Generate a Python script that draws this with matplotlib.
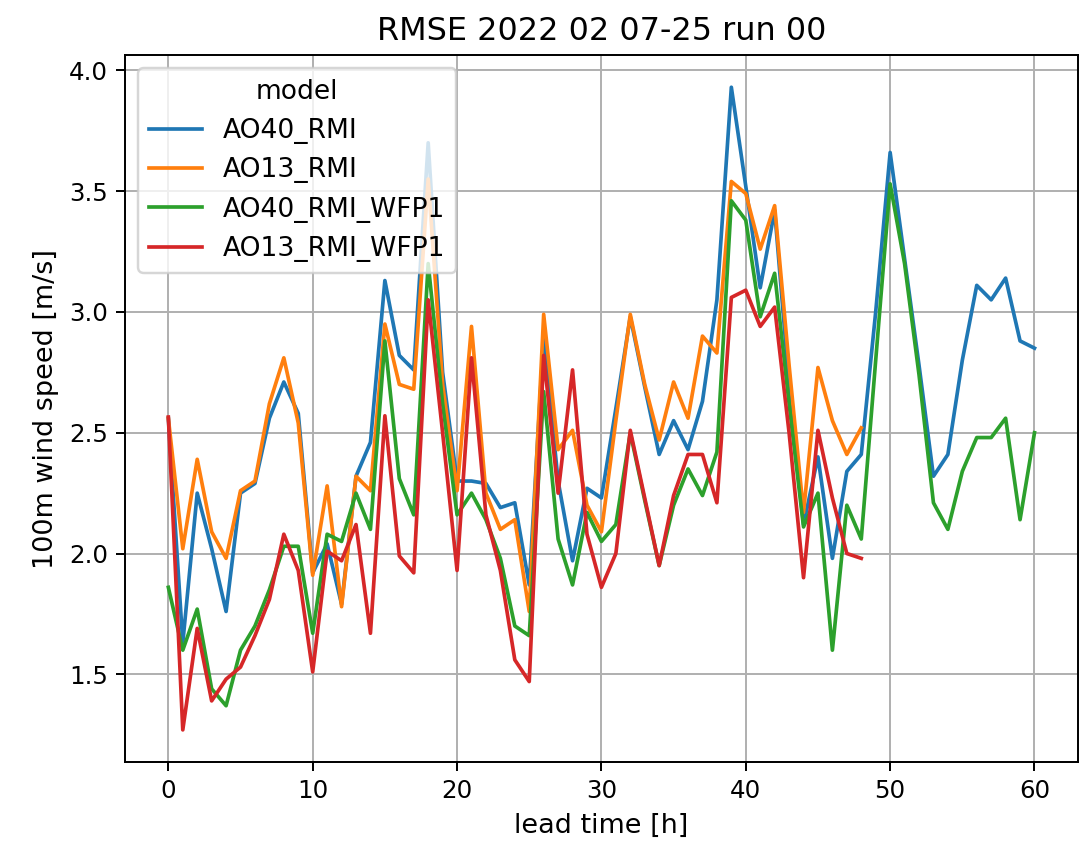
#!/usr/bin/env python3
import numpy
import matplotlib
matplotlib.use("Agg")
import matplotlib.pyplot as plt

title = "RMSE 2022 02 07-25 run 00"
legend_title = "model"
models = ["AO40_RMI", "AO13_RMI", "AO40_RMI_WFP1", "AO13_RMI_WFP1"]

# lead time [h]: AO40 runs go to 60h, AO13 runs stop at 48h
lead_ao40 = list(range(0, 61))
lead_ao13 = list(range(0, 49))

ao40_rmi = [2.56, 1.63, 2.25, 2.02, 1.76, 2.25, 2.29, 2.56, 2.71, 2.58,
            1.92, 2.04, 1.79, 2.32, 2.46, 3.13, 2.82, 2.76, 3.70, 2.75,
            2.30, 2.30, 2.29, 2.19, 2.21, 1.87, 2.90, 2.30, 1.97, 2.27,
            2.23, 2.60, 2.98, 2.69, 2.41, 2.55, 2.43, 2.63, 3.05, 3.93,
            3.52, 3.10, 3.42, 2.70, 2.12, 2.40, 1.98, 2.34, 2.41, 3.00,
            3.66, 3.22, 2.78, 2.32, 2.41, 2.80, 3.11, 3.05, 3.14, 2.88,
            2.85]
ao13_rmi = [2.56, 2.02, 2.39, 2.09, 1.98, 2.26, 2.30, 2.62, 2.81, 2.54,
            1.91, 2.28, 1.78, 2.32, 2.26, 2.95, 2.70, 2.68, 3.55, 2.70,
            2.26, 2.94, 2.25, 2.10, 2.14, 1.76, 2.99, 2.43, 2.51, 2.20,
            2.09, 2.55, 2.99, 2.70, 2.47, 2.71, 2.56, 2.90, 2.83, 3.54,
            3.49, 3.26, 3.44, 2.78, 2.17, 2.77, 2.55, 2.41, 2.52]
ao40_rmi_wfp1 = [1.86, 1.60, 1.77, 1.44, 1.37, 1.60, 1.70, 1.85, 2.03, 2.03,
                 1.67, 2.08, 2.05, 2.25, 2.10, 2.88, 2.31, 2.16, 3.20, 2.62,
                 2.16, 2.25, 2.14, 1.98, 1.70, 1.66, 2.67, 2.06, 1.87, 2.17,
                 2.05, 2.12, 2.50, 2.22, 1.95, 2.20, 2.35, 2.24, 2.42, 3.46,
                 3.38, 2.98, 3.16, 2.62, 2.11, 2.25, 1.60, 2.20, 2.06, 2.80,
                 3.53, 3.20, 2.74, 2.21, 2.10, 2.34, 2.48, 2.48, 2.56, 2.14,
                 2.50]
ao13_rmi_wfp1 = [2.565, 1.27, 1.69, 1.39, 1.48, 1.53, 1.66, 1.81, 2.08, 1.93,
                 1.51, 2.01, 1.97, 2.12, 1.67, 2.57, 1.99, 1.92, 3.05, 2.50,
                 1.93, 2.81, 2.16, 1.93, 1.56, 1.47, 2.82, 2.25, 2.76, 2.08,
                 1.86, 2.00, 2.51, 2.23, 1.95, 2.24, 2.41, 2.41, 2.21, 3.06,
                 3.09, 2.94, 3.02, 2.50, 1.90, 2.51, 2.23, 2.00, 1.98]


def main():
    series = [
        (lead_ao40, ao40_rmi),
        (lead_ao13, ao13_rmi),
        (lead_ao40, ao40_rmi_wfp1),
        (lead_ao13, ao13_rmi_wfp1),
    ]

    dpi = 176.7
    fig = plt.figure(figsize=(1092 / dpi, 848 / dpi), dpi=dpi)
    ax = fig.add_axes([0.1145, 0.1014, 0.8725, 0.8336])

    for name, (x, y) in zip(models, series):
        ax.plot(numpy.array(x), numpy.array(y), label=name)

    ax.grid(True)
    ax.set_xlabel("lead time [h]", fontsize=11)
    ax.set_ylabel("100m wind speed [m/s]", fontsize=11)
    ax.set_title(title, fontsize=13)
    ax.legend(title=legend_title, loc="upper left",
              fontsize=10.8, title_fontsize=10.8)

    fig.savefig("out.png", dpi=dpi)


if __name__ == "__main__":
    main()
